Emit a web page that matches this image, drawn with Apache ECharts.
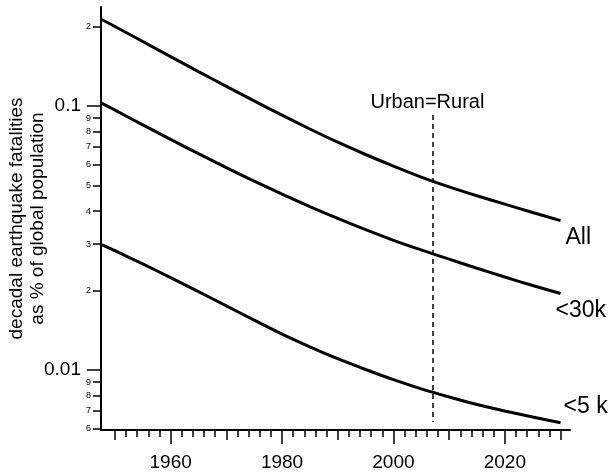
<!DOCTYPE html>
<html><head><meta charset="utf-8">
<script src="https://cdn.jsdelivr.net/npm/echarts@6/dist/echarts.min.js"></script>
<style>html,body{margin:0;padding:0;background:#fff}#c{width:614px;height:476px}</style>
</head><body><div id="c"></div>
<script>
const years = [1947.5, 1950, 1955, 1960, 1965, 1970, 1975, 1980, 1985, 1990, 1995, 2000, 2005, 2010, 2015, 2020, 2025, 2030];
const allPct = [0.2130, 0.2000, 0.1754, 0.1538, 0.1349, 0.1186, 0.1045, 0.0923, 0.0818, 0.0729, 0.0655, 0.0592, 0.0538, 0.0494, 0.0457, 0.0425, 0.0395, 0.0368];
const lt30kPct = [0.1027, 0.0965, 0.0848, 0.0747, 0.0660, 0.0584, 0.0519, 0.0464, 0.0416, 0.0375, 0.0340, 0.0310, 0.0285, 0.0263, 0.0243, 0.0225, 0.0209, 0.0195];
const lt5kPct = [0.02992, 0.02831, 0.02523, 0.02239, 0.01982, 0.01750, 0.01545, 0.01368, 0.01225, 0.01104, 0.01005, 0.00920, 0.00849, 0.00791, 0.00741, 0.00700, 0.00664, 0.00632];
const seriesNames = ['All', '<30k', '<5 k'];

const xMajorTicks = [1960, 1980, 2000, 2020];
const xMidTicks = [1950, 1970, 1990, 2010, 2030];
const xMinorTicks = [1950, 1952, 1954, 1956, 1958, 1960, 1962, 1964, 1966, 1968, 1970, 1972, 1974, 1976, 1978, 1980, 1982, 1984, 1986, 1988, 1990, 1992, 1994, 1996, 1998, 2000, 2002, 2004, 2006, 2008, 2010, 2012, 2014, 2016, 2018, 2020, 2022, 2024, 2026, 2028, 2030];
const yMajorTicks = [0.1, 0.01];
const yMajorLabels = ['0.1', '0.01'];
const yMinorTicks = [0.2, 0.09, 0.08, 0.07, 0.06, 0.05, 0.04, 0.03, 0.02, 0.009, 0.008, 0.007, 0.006];
const yMinorLabels = ['2', '9', '8', '7', '6', '5', '4', '3', '2', '9', '8', '7', '6'];

const urbanRuralYear = 2007;
const urbanRuralSpan = [0.0925, 0.00636];
const urbanRuralText = 'Urban=Rural';
const yTitle = 'decadal earthquake fatalities\nas % of global population';

const X_MIN = 1947.5, X_MAX = 2031.7, Y_MIN = 0.00593, Y_MAX = 0.237;
const FONT = 'Liberation Sans, Arial, Helvetica, sans-serif';

function lookup(ticks, labels) {
  return function (v) {
    for (let i = 0; i < ticks.length; i++) {
      if (Math.abs(v - ticks[i]) <= Math.abs(ticks[i]) * 1e-6) return labels[i];
    }
    return '';
  };
}

const toPairs = arr => years.map((y, i) => [y, arr[i]]);

const chart = echarts.init(document.getElementById('c'), null, {renderer: 'canvas'});
const baseX = {
  type: 'value', min: X_MIN, max: X_MAX, position: 'bottom',
  splitLine: {show: false}, axisLine: {show: false}, axisLabel: {show: false}
};
const baseY = {
  type: 'log', logBase: 10, min: Y_MIN, max: Y_MAX, position: 'left',
  splitLine: {show: false}, minorTick: {show: false}, axisLine: {show: false}
};
chart.setOption({
  animation: false,
  backgroundColor: '#fff',
  grid: {left: 101, right: 44, top: 7, bottom: 46, containLabel: false, outerBoundsMode: 'none'},
  xAxis: [
    Object.assign({}, baseX, {
      axisLine: {show: true, lineStyle: {color: '#000', width: 2}},
      axisTick: {show: true, length: 7, customValues: xMinorTicks, lineStyle: {color: '#000', width: 1.5}}
    }),
    Object.assign({}, baseX, {
      axisTick: {show: true, length: 10, customValues: xMidTicks, lineStyle: {color: '#000', width: 1.5}}
    }),
    Object.assign({}, baseX, {
      axisTick: {show: true, length: 14, customValues: xMajorTicks, lineStyle: {color: '#000', width: 1.5}},
      axisLabel: {show: true, customValues: xMajorTicks, margin: 23, color: '#000', fontSize: 19, fontFamily: FONT,
        formatter: v => String(Math.round(v))}
    })
  ],
  yAxis: [
    Object.assign({}, baseY, {
      axisLine: {show: true, lineStyle: {color: '#000', width: 2}},
      axisTick: {show: true, length: 14, customValues: yMajorTicks, lineStyle: {color: '#000', width: 1.5}},
      axisLabel: {show: true, customValues: yMajorTicks, margin: 20, color: '#000', fontSize: 19, fontFamily: FONT,
        formatter: lookup(yMajorTicks, yMajorLabels)},
      name: yTitle, nameLocation: 'middle', nameRotate: 90, nameGap: 53, nameMoveOverlap: false,
      nameTextStyle: {color: '#000', fontSize: 19, fontFamily: FONT, lineHeight: 21, align: 'center'}
    }),
    Object.assign({}, baseY, {
      axisTick: {show: true, length: 8, customValues: yMinorTicks, lineStyle: {color: '#000', width: 1.5}},
      axisLabel: {show: true, customValues: yMinorTicks, margin: 10, color: '#000', fontSize: 9, fontFamily: FONT,
        formatter: lookup(yMinorTicks, yMinorLabels)}
    })
  ],
  series: [
    {
      name: seriesNames[0], type: 'line', data: toPairs(allPct), smooth: 0.3, symbol: 'none',
      lineStyle: {color: '#000', width: 3}, itemStyle: {color: '#000'},
      endLabel: {show: true, formatter: '{a}', color: '#000', fontSize: 23, fontFamily: FONT, offset: [-3, 17]},
      markLine: {
        silent: true, symbol: ['none', 'none'], animation: false,
        lineStyle: {color: '#000', width: 1.5, type: [5, 4]},
        label: {show: true, position: 'start', formatter: urbanRuralText, color: '#000', fontSize: 20, fontFamily: FONT, offset: [-5, 3]},
        data: [[{coord: [urbanRuralYear, urbanRuralSpan[0]]}, {coord: [urbanRuralYear, urbanRuralSpan[1]]}]]
      }
    },
    {
      name: seriesNames[1], type: 'line', data: toPairs(lt30kPct), smooth: 0.3, symbol: 'none',
      lineStyle: {color: '#000', width: 3}, itemStyle: {color: '#000'},
      endLabel: {show: true, formatter: '{a}', color: '#000', fontSize: 23, fontFamily: FONT, offset: [-13, 17]}
    },
    {
      name: seriesNames[2], type: 'line', data: toPairs(lt5kPct), smooth: 0.3, symbol: 'none',
      lineStyle: {color: '#000', width: 3}, itemStyle: {color: '#000'},
      endLabel: {show: true, formatter: '{a}', color: '#000', fontSize: 23, fontFamily: FONT, offset: [-5, -16]}
    }
  ]
});
</script>
</body></html>
